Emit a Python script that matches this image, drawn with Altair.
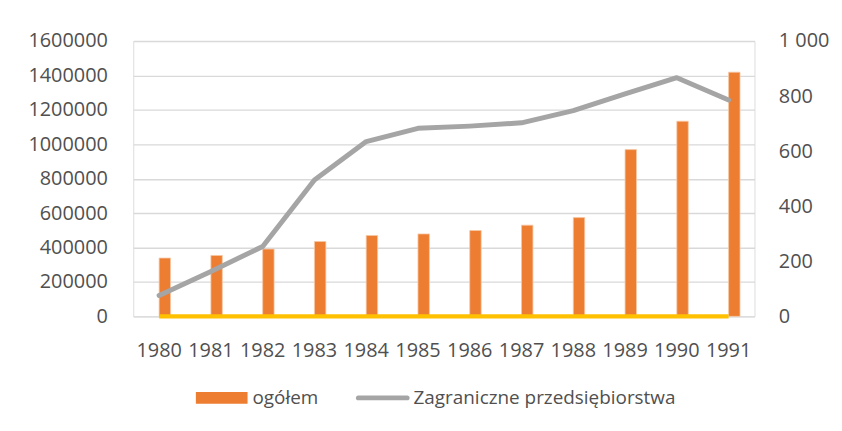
import altair as alt
import pandas as pd

years = ["1980", "1981", "1982", "1983", "1984", "1985",
         "1986", "1987", "1988", "1989", "1990", "1991"]
ogolem = [339000, 354000, 391000, 435000, 470000, 479000,
          499000, 530000, 574000, 969000, 1134000, 1419000]
zagraniczne = [76, 163, 254, 495, 635, 683, 691, 703, 747, 808, 867, 786]
baseline_series = [0, 0, 0, 0, 0, 0, 0, 0, 0, 0, 0, 0]

left_ticks = [0, 200000, 400000, 600000, 800000, 1000000, 1200000, 1400000, 1600000]
right_ticks = [0, 200, 400, 600, 800, 1000]

series_names = ["ogółem", "Zagraniczne przedsiębiorstwa"]
series_colors = ["#ED7D31", "#A5A5A5"]
series_shapes = [
    "M-1,-0.23H1V0.23H-1Z",
    "M-0.95,-0.09H0.95A0.09,0.09 0 0 1 0.95,0.09H-0.95A0.09,0.09 0 0 1 -0.95,-0.09Z",
]

df = pd.DataFrame({"rok": years, "ogolem": ogolem,
                   "zagr": zagraniczne, "zero": baseline_series})

FONT = "Open Sans"
TXT = "#505050"

x_enc = alt.X("rok:O", sort=years,
              scale=alt.Scale(paddingInner=0, paddingOuter=0),
              axis=alt.Axis(title=None, labelAngle=0, labelFontSize=20, labelFont=FONT,
                            labelColor=TXT, domain=False, ticks=False, labelPadding=24))

color_scale = alt.Scale(domain=series_names, range=series_colors)
shape_scale = alt.Scale(domain=series_names, range=series_shapes)

legend = alt.Legend(
    title=None, orient="none", legendX=63, legendY=333, direction="horizontal",
    symbolSize=2704, symbolOpacity=1, symbolStrokeWidth=0,
    labelFontSize=19, labelFont=FONT, labelColor=TXT, labelOffset=5,
    columnPadding=36, labelLimit=500,
)

left_y = alt.Y("ogolem:Q", scale=alt.Scale(domain=[0, 1600000], nice=False),
               axis=alt.Axis(title=None, values=left_ticks, format="d", orient="left",
                             labelFontSize=20, labelFont=FONT, labelColor=TXT,
                             domain=False, ticks=False, labelPadding=26,
                             grid=True, gridColor="#D9D9D9", gridWidth=1.4))

right_axis = alt.Axis(title=None, values=right_ticks, orient="right",
                      labelExpr="replace(format(datum.value, ','), ',', ' ')",
                      labelFontSize=20, labelFont=FONT, labelColor=TXT,
                      domain=False, ticks=False, labelPadding=24, grid=False)
right_scale = alt.Scale(domain=[0, 1000], nice=False)

bar_base = alt.Chart(df).transform_calculate(series="'ogółem'")
bars = bar_base.mark_bar(
    size=11.5, xOffset=5.75, stroke="#F6C7A6", strokeWidth=0.8
).encode(
    x=x_enc, y=left_y,
    color=alt.Color("series:N", scale=color_scale, legend=legend),
)
bar_key = bar_base.mark_point(filled=True, opacity=0, size=1).encode(
    x=x_enc, y=left_y,
    color=alt.Color("series:N", scale=color_scale, legend=legend),
    shape=alt.Shape("series:N", scale=shape_scale, legend=legend),
)

line_base = alt.Chart(df).transform_calculate(series="'Zagraniczne przedsiębiorstwa'")
line = line_base.mark_line(
    strokeWidth=5, strokeCap="round", strokeJoin="round"
).encode(
    x=x_enc, y=alt.Y("zagr:Q", scale=right_scale, axis=right_axis),
    color=alt.Color("series:N", scale=color_scale, legend=legend),
)
line_key = line_base.mark_point(filled=True, opacity=0, size=1).encode(
    x=x_enc, y=alt.Y("zagr:Q", scale=right_scale, axis=right_axis),
    color=alt.Color("series:N", scale=color_scale, legend=legend),
    shape=alt.Shape("series:N", scale=shape_scale, legend=legend),
)

zero_line = alt.Chart(df).mark_line(
    strokeWidth=4.5, color="#FFC000", strokeCap="butt"
).encode(
    x=x_enc,
    y=alt.Y("zero:Q", scale=right_scale, axis=right_axis),
)

left_layer = alt.layer(bars, bar_key)
right_layer = alt.layer(line, zero_line, line_key)

chart = alt.layer(left_layer, right_layer).resolve_scale(y="independent").properties(
    width=625, height=277,
    autosize=alt.AutoSizeParams(type="none"),
    padding={"left": 126, "top": 32, "right": 80, "bottom": 100},
).configure_view(stroke=None).configure(background="white")

chart.save("out.html", embed_options={"renderer": "svg", "actions": False})
